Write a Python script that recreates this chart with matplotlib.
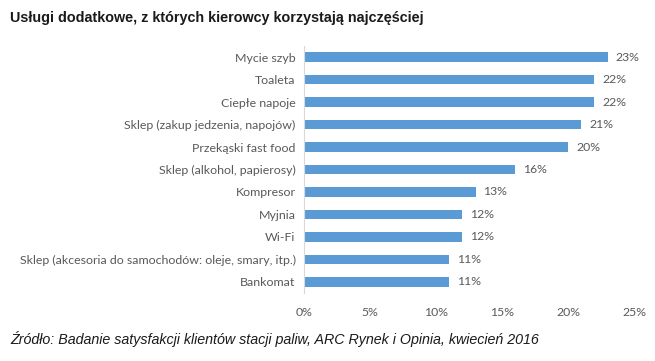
import matplotlib.pyplot as plt
import numpy as np

categories = ['Mycie szyb', 'Toaleta', 'Ciepłe napoje', 'Sklep (zakup jedzenia, napojów)',
              'Przekąski fast food', 'Sklep (alkohol, papierosy)', 'Kompresor', 'Myjnia',
              'Wi-Fi', 'Sklep (akcesoria do samochodów: oleje, smary, itp.)', 'Bankomat']
values = [23, 22, 22, 21, 20, 16, 13, 12, 12, 11, 11]
xticks = [0, 5, 10, 15, 20, 25]

grey = '#595959'
fig = plt.figure(figsize=(6.55, 3.61), dpi=100)
ax = fig.add_axes([0.464, 0.188, 0.504, 0.685])

y = np.arange(len(categories))
ax.barh(y, values, height=0.42, color='#5B9BD5')
for yi, v in zip(y, values):
    ax.text(v + 0.6, yi, '{}%'.format(v), va='center', ha='left', fontsize=8.8,
            color=grey, family='Lato')

ax.set_ylim(len(categories) - 0.5, -0.5)
ax.set_xlim(0, 25)
ax.set_yticks(y)
ax.set_yticklabels(categories, fontsize=8.9, color=grey, family='Lato')
ax.set_xticks(xticks)
ax.set_xticklabels(['{}%'.format(t) for t in xticks], fontsize=8.8, color=grey, family='Lato')
ax.tick_params(length=0, pad=6)
ax.tick_params(axis='x', pad=10)
for s in ['top', 'right', 'bottom']:
    ax.spines[s].set_visible(False)
ax.spines['left'].set_color('#d9d9d9')

fig.text(0.015, 0.95, 'Usługi dodatkowe, z których kierowcy korzystają najczęściej',
         fontsize=10.4, fontweight='bold', family='Liberation Sans', va='center', color='#1a1a1a')
fig.text(0.015, 0.06, 'Źródło: Badanie satysfakcji klientów stacji paliw, ARC Rynek i Opinia, kwiecień 2016',
         fontsize=10.3, style='italic', family='Liberation Sans', va='center', color='#1a1a1a')

fig.savefig('out.png', dpi=100)
